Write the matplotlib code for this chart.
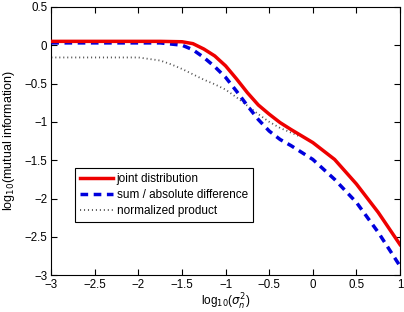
import matplotlib
matplotlib.use('Agg')
import matplotlib.pyplot as plt

plt.rcParams['font.family'] = ['Liberation Sans', 'DejaVu Sans']

x = [-3, -2.5, -2, -1.75, -1.5, -1.375, -1.25, -1.125, -1.0, -0.875, -0.75, -0.625,
     -0.5, -0.375, -0.25, 0.0, 0.25, 0.5, 0.75, 1.0]
joint = [0.05, 0.05, 0.05, 0.05, 0.045, 0.02, -0.05, -0.14, -0.27, -0.44, -0.62, -0.78,
         -0.90, -1.01, -1.10, -1.27, -1.49, -1.81, -2.18, -2.60]
sumdiff = [0.03, 0.03, 0.03, 0.03, 0.0, -0.06, -0.16, -0.28, -0.42, -0.60, -0.79, -0.97,
           -1.12, -1.23, -1.31, -1.49, -1.75, -2.05, -2.44, -2.88]
xp = [-3, -2.5, -2, -1.75, -1.625, -1.5, -1.375, -1.25, -1.125, -1.0, -0.875, -0.75,
      -0.625, -0.5, -0.375, -0.25, -0.15]
normprod = [-0.16, -0.16, -0.16, -0.2, -0.25, -0.31, -0.38, -0.45, -0.51, -0.58, -0.68, -0.79,
            -0.90, -1.0, -1.08, -1.14, -1.19]

fig = plt.figure(figsize=(4.04, 3.12), dpi=100)
ax = fig.add_axes([0.127, 0.118, 0.863, 0.86])
ax.plot(xp, normprod, color='#555555', lw=1.3, ls=(0, (0.6, 1.6)), label='normalized product', zorder=2)
ax.plot(x, sumdiff, color='#0000dd', lw=2.5, ls=(0, (2.2, 1.6)), label='sum / absolute difference', zorder=3)
ax.plot(x, joint, color='#ee0000', lw=2.5, label='joint distribution', zorder=4)

ax.set_xlim(-3, 1)
ax.set_ylim(-3, 0.5)
ax.set_xticks([-3, -2.5, -2, -1.5, -1, -0.5, 0, 0.5, 1])
ax.set_xticklabels(['\u22123', '\u22122.5', '\u22122', '\u22121.5', '\u22121', '\u22120.5', '0', '0.5', '1'])
ax.set_yticks([-3, -2.5, -2, -1.5, -1, -0.5, 0, 0.5])
ax.set_yticklabels(['\u22123', '\u22122.5', '\u22122', '\u22121.5', '\u22121', '\u22120.5', '0', '0.5'])
ax.tick_params(direction='in', top=True, right=True, labelsize=8.3, length=4)
ax.tick_params(axis='x', pad=3)
ax.tick_params(axis='y', pad=3)
ax.set_xlabel('log$_{10}$($\\sigma_n^2$)', fontsize=8.5)
ax.xaxis.set_label_coords(0.5, -0.062)
ax.xaxis.label.set_va('top')
ax.set_ylabel('log$_{10}$(mutual information)', fontsize=9)
ax.yaxis.set_label_coords(-0.122, 0.5)
ax.yaxis.label.set_va('center')

h, l = ax.get_legend_handles_labels()
leg = ax.legend(h[::-1], l[::-1], loc='lower left', bbox_to_anchor=(0.069, 0.198), fontsize=8.5,
                fancybox=False, edgecolor='black', framealpha=1, handlelength=2.8,
                borderpad=0.4, labelspacing=0.35, handletextpad=0.3, borderaxespad=0)
leg.get_frame().set_linewidth(0.8)

fig.savefig('out.png', dpi=100)
